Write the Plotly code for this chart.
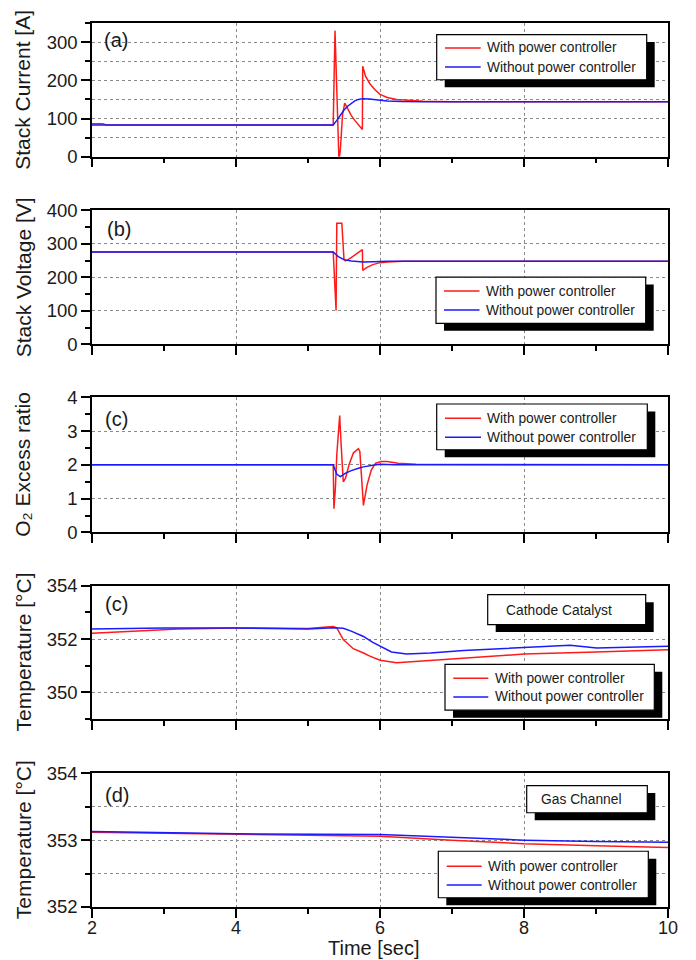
import plotly.graph_objects as go

# ---------------- data ----------------
# (a) Stack current [A]
t_cur_with = [2.0, 2.15, 2.2, 5.35, 5.375, 5.40, 5.43, 5.45, 5.48, 5.51, 5.55, 5.60, 5.65, 5.70, 5.755,
              5.76, 5.80, 5.86, 5.93, 6.0, 6.1, 6.23, 6.4, 6.6, 7.0, 10.0]
cur_with = [86, 86, 83, 83, 330, 150, -10, 20, 110, 140, 125, 108, 95, 84, 71,
            237, 210, 191, 175, 163, 155, 150, 147, 145, 144, 144]
t_cur_without = [2.0, 5.35, 5.40, 5.45, 5.50, 5.55, 5.60, 5.65, 5.70, 5.76, 5.85, 5.95, 6.1, 6.3, 6.6, 10.0]
cur_without = [83, 83, 95, 110, 122, 132, 140, 146, 150, 152, 151, 149, 146, 144.5, 144, 144]

# (b) Stack voltage [V]
t_volt_with = [2.0, 5.35, 5.39, 5.40, 5.47, 5.50, 5.52, 5.55, 5.62, 5.70, 5.755, 5.76, 5.82, 5.90,
               6.0, 6.1, 6.2, 6.32, 10.0]
volt_with = [276, 276, 101, 362, 362, 253, 249, 252, 262, 275, 283, 221, 230, 238, 244, 246, 247, 248, 248]
t_volt_without = [2.0, 5.35, 5.42, 5.50, 5.60, 5.70, 5.77, 5.90, 6.1, 10.0]
volt_without = [276, 276, 262, 253, 249, 247, 246, 247, 248, 248]

# (c) O2 excess ratio
t_o2_with = [2.0, 5.35, 5.36, 5.38, 5.40, 5.42, 5.44, 5.46, 5.49, 5.52, 5.57, 5.63, 5.70, 5.72,
             5.745, 5.77, 5.82, 5.88, 5.94, 6.02, 6.1, 6.25, 6.5, 10.0]
o2_with = [2.0, 2.0, 0.7, 1.3, 2.3, 3.0, 3.46, 2.6, 1.5, 1.6, 2.0, 2.35, 2.48, 2.4,
           1.6, 0.8, 1.4, 1.85, 2.05, 2.1, 2.1, 2.05, 2.02, 2.0]
t_o2_without = [2.0, 5.35, 5.40, 5.45, 5.51, 5.60, 5.70, 5.77, 5.90, 6.0, 6.2, 10.0]
o2_without = [2.0, 2.0, 1.72, 1.65, 1.74, 1.83, 1.90, 1.94, 1.99, 2.02, 2.0, 2.0]

# (c) Cathode catalyst temperature [°C]
t_cat_with = [2.0, 3.2, 4.0, 5.0, 5.35, 5.40, 5.49, 5.63, 5.77, 5.86, 6.0, 6.23, 6.69, 7.5, 8.0, 9.0, 10.0]
cat_with = [352.22, 352.38, 352.42, 352.40, 352.47, 352.42, 351.98, 351.64, 351.48, 351.36, 351.21,
            351.11, 351.20, 351.35, 351.44, 351.52, 351.60]
t_cat_without = [2.0, 3.0, 4.0, 5.0, 5.35, 5.49, 5.60, 5.77, 5.90, 6.0, 6.16, 6.37, 6.7, 7.16,
                 8.0, 8.64, 9.01, 10.0]
cat_without = [352.38, 352.42, 352.42, 352.38, 352.43, 352.41, 352.30, 352.10, 351.88, 351.73, 351.52,
               351.44, 351.48, 351.57, 351.67, 351.77, 351.67, 351.73]

# (d) Gas channel temperature [°C]
t_gas_with = [2.0, 4.0, 5.4, 6.0, 7.0, 8.0, 9.0, 10.0]
gas_with = [353.12, 353.085, 353.07, 353.06, 353.0, 352.945, 352.915, 352.89]
t_gas_without = [2.0, 4.0, 6.0, 7.0, 8.0, 9.0, 10.0]
gas_without = [353.13, 353.095, 353.085, 353.04, 353.0, 352.98, 352.97]

series_names = ["With power controller", "Without power controller"]
panel_labels = ["(a)", "(b)", "(c)", "(c)", "(d)"]
y_titles = ["Stack Current [A]", "Stack Voltage [V]", "O₂ Excess ratio",
            "Temperature [°C]", "Temperature [°C]"]
x_title = "Time [sec]"
box_labels = ["Cathode Catalyst", "Gas Channel"]

# ---------------- layout helpers ----------------
W, H = 696, 960
L, R, T, B = 92, 28, 19, 53
PW, PH = W - L - R, H - T - B


def px(x):
    return (x - L) / PW


def py(y):
    return (H - B - y) / PH


FONT = "Liberation Sans, Arial, sans-serif"
RED = "#ff1a1a"
BLUE = "#1a1aff"
GRID = "#8a8a8a"

panels_px = [(19, 153.3), (207.3, 341.7), (395, 530.7), (584.3, 718.3), (772.7, 907)]
domains = [[max(0, py(b)), min(1, py(t))] for t, b in panels_px]

data = [
    (t_cur_with, cur_with, t_cur_without, cur_without),
    (t_volt_with, volt_with, t_volt_without, volt_without),
    (t_o2_with, o2_with, t_o2_without, o2_without),
    (t_cat_with, cat_with, t_cat_without, cat_without),
    (t_gas_with, gas_with, t_gas_without, gas_without),
]

fig = go.Figure()
for i, (tw, vw, to, vo) in enumerate(data):
    k = "" if i == 0 else str(i + 1)
    fig.add_trace(go.Scatter(x=tw, y=vw, mode="lines", line=dict(color=RED, width=1.5),
                             name=series_names[0], showlegend=False, xaxis="x" + k, yaxis="y" + k))
    fig.add_trace(go.Scatter(x=to, y=vo, mode="lines", line=dict(color=BLUE, width=1.5),
                             name=series_names[1], showlegend=False, xaxis="x" + k, yaxis="y" + k))

yspecs = [
    dict(range=[0, 350], tick0=0, dtick=100, minor_dtick=50, minor_grid=True),
    dict(range=[0, 400], tick0=0, dtick=100, minor_dtick=50, minor_grid=False),
    dict(range=[0, 4], tick0=0, dtick=1, minor_dtick=0.5, minor_grid=False),
    dict(range=[349, 354], tick0=350, dtick=2, minor_dtick=1, minor_grid=False),
    dict(range=[352, 354], tick0=352, dtick=1, minor_dtick=0.5, minor_grid=True),
]

layout = dict(
    width=W, height=H, margin=dict(l=L, r=R, t=T, b=B),
    paper_bgcolor="white", plot_bgcolor="white",
    font=dict(family=FONT, color="#1a1a1a", size=18.5),
    showlegend=False,
)

for i in range(5):
    k = "" if i == 0 else str(i + 1)
    layout["xaxis" + k] = dict(
        domain=[0, 1], anchor="y" + k, range=[2, 10], tick0=2, dtick=2,
        showline=True, mirror=True, linecolor="black", linewidth=1.5,
        ticks="outside", ticklen=9, tickwidth=1.5, tickcolor="black",
        showgrid=True, gridcolor=GRID, griddash="dot", gridwidth=1,
        zeroline=False, showticklabels=(i == 4), ticklabelstandoff=-5,
        tickfont=dict(size=18, family=FONT),
        minor=dict(dtick=1, ticks="outside", ticklen=5, tickwidth=1.5, tickcolor="black", showgrid=False),
    )
    if i > 0:
        layout["xaxis" + k]["matches"] = "x"
    s = yspecs[i]
    layout["yaxis" + k] = dict(
        domain=domains[i], anchor="x" + k, range=s["range"], tick0=s["tick0"], dtick=s["dtick"],
        showline=True, mirror=True, linecolor="black", linewidth=1.5,
        ticks="outside", ticklen=9, tickwidth=1.5, tickcolor="black",
        showgrid=True, gridcolor=GRID, griddash="dot", gridwidth=1,
        zeroline=False, tickfont=dict(size=18.5, family=FONT),
        minor=dict(dtick=s["minor_dtick"], ticks="outside", ticklen=5, tickwidth=1.5, tickcolor="black",
                   showgrid=s["minor_grid"], gridcolor=GRID, griddash="dot", gridwidth=1),
    )

shapes = []
annotations = []


def shadow_box(x0, y0, x1, y1, dx=8, dy=7.5):
    shapes.append(dict(type="rect", xref="paper", yref="paper", layer="above",
                       x0=px(x0 + dx), x1=px(x1 + dx), y0=py(y1 + dy), y1=py(y0 + dy),
                       fillcolor="black", line=dict(width=0)))
    shapes.append(dict(type="rect", xref="paper", yref="paper", layer="above",
                       x0=px(x0), x1=px(x1), y0=py(y1), y1=py(y0),
                       fillcolor="white", line=dict(color="black", width=1.2)))


def legend_box(box, rows, lx0, lx1, tx):
    shadow_box(*box)
    for row, name, col in zip(rows, series_names, [RED, BLUE]):
        shapes.append(dict(type="line", xref="paper", yref="paper", layer="above",
                           x0=px(lx0), x1=px(lx1), y0=py(row), y1=py(row),
                           line=dict(color=col, width=1.5)))
        annotations.append(dict(text=name, xref="paper", yref="paper", x=px(tx), y=py(row),
                                xanchor="left", yanchor="middle", showarrow=False,
                                font=dict(size=13.8, family=FONT, color="#1a1a1a")))


legend_box((436.7, 30.7, 646.7, 76), (44, 63.3), 445, 480.7, 485)
legend_box((436, 274.3, 645.7, 320.7), (288.3, 307.3), 444, 479.5, 484)
legend_box((436.7, 401.7, 647.3, 447.7), (416, 435), 445, 481, 485)
legend_box((445, 663.3, 654.3, 709.3), (677.3, 696), 453.3, 488.3, 492.7)
legend_box((438.3, 851, 648.3, 897.7), (866, 885), 446.7, 481.7, 486)

# label boxes
shadow_box(487.7, 593.3, 645.7, 623.3)
annotations.append(dict(text=box_labels[0], xref="paper", yref="paper", x=px(559.3), y=py(609),
                        xanchor="center", yanchor="middle", showarrow=False,
                        font=dict(size=13.8, family=FONT, color="#1a1a1a")))
shadow_box(526.7, 785, 647.3, 812.3)
annotations.append(dict(text=box_labels[1], xref="paper", yref="paper", x=px(581.5), y=py(799),
                        xanchor="center", yanchor="middle", showarrow=False,
                        font=dict(size=13.8, family=FONT, color="#1a1a1a")))

# panel labels
label_pos = [(115.5, 36.5), (119, 226), (116, 416.5), (116.7, 602.5), (116.5, 794)]
for lab, (x, y) in zip(panel_labels, label_pos):
    annotations.append(dict(text=lab, xref="paper", yref="paper", x=px(x), y=py(y),
                            xanchor="center", yanchor="middle", showarrow=False,
                            font=dict(size=20, family=FONT, color="#1a1a1a")))

# y titles
for title, (t, b) in zip(y_titles, panels_px):
    annotations.append(dict(text=title, xref="paper", yref="paper", x=px(23), y=py((t + b) / 2),
                            xanchor="center", yanchor="middle", showarrow=False, textangle=-90,
                            font=dict(size=21, family=FONT, color="#1a1a1a")))

annotations.append(dict(text=x_title, xref="paper", yref="paper", x=px(374.3), y=py(960),
                        xanchor="center", yanchor="bottom", showarrow=False, borderpad=0,
                        font=dict(size=20, family=FONT, color="#1a1a1a")))

layout["shapes"] = shapes
layout["annotations"] = annotations
fig.update_layout(**layout)
fig.write_html("out.html")
